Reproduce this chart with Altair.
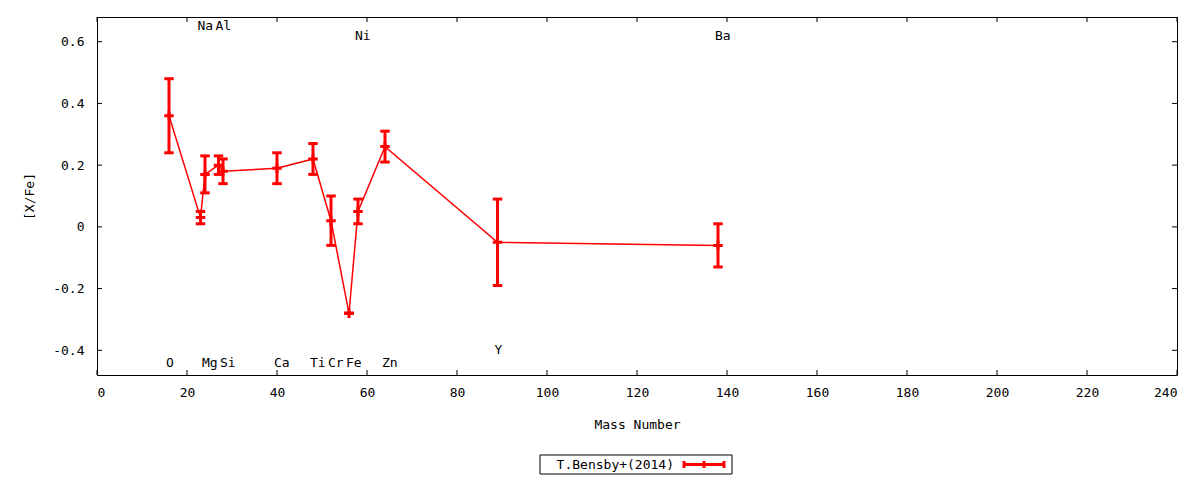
import altair as alt
import pandas as pd

# abundance pattern, T.Bensby+(2014)
elements = ["O", "Na", "Mg", "Al", "Si", "Ca", "Ti", "Cr", "Fe", "Ni", "Zn", "Y", "Ba"]
mass = [16, 23, 24, 27, 28, 40, 48, 52, 56, 58, 64, 89, 138]
xfe = [0.36, 0.03, 0.17, 0.20, 0.18, 0.19, 0.22, 0.02, -0.28, 0.05, 0.26, -0.05, -0.06]
err = [0.12, 0.02, 0.06, 0.03, 0.04, 0.05, 0.05, 0.08, 0.0, 0.04, 0.05, 0.14, 0.07]
label_y = [-0.44, 0.65, -0.44, 0.65, -0.44, -0.44, -0.44, -0.44, -0.44, 0.62, -0.44, -0.40, 0.62]

x_ticks = [0, 20, 40, 60, 80, 100, 120, 140, 160, 180, 200, 220, 240]
y_ticks = [-0.4, -0.2, 0, 0.2, 0.4, 0.6]

W, H = 1080, 358
FONT = "DejaVu Sans Mono"
RED = "#ff0000"

dat = pd.DataFrame({"el": elements, "mass": mass, "xfe": xfe, "err": err, "ly": label_y})
dat["lo"] = dat["xfe"] - dat["err"]
dat["hi"] = dat["xfe"] + dat["err"]

xs = alt.Scale(domain=[0, 240], nice=False, zero=False)
ys = alt.Scale(domain=[-0.48, 0.68], nice=False, zero=False)
xax = alt.Axis(values=x_ticks, ticks=False, domain=False, grid=False,
               labelPadding=11, titlePadding=19, title="Mass Number")
yax = alt.Axis(values=y_ticks, ticks=False, domain=False, grid=False,
               labelExpr="toString(datum.value)", labelPadding=13, titlePadding=16, title="[X/Fe]")


def X(f):
    return alt.X(f, scale=xs, axis=xax)


def Y(f):
    return alt.Y(f, scale=ys, axis=yax)


base = alt.Chart(dat)

line = base.mark_line(color=RED, strokeWidth=1.5).encode(X("mass:Q"), Y("xfe:Q"), order="mass:Q")

bars = base.mark_rule(color=RED, strokeWidth=3).encode(X("mass:Q"), Y("lo:Q"), alt.Y2("hi:Q"))

hbar = "M-1,0L1,0"
cross = "M-1,0L1,0M0,-1L0,1"

caps_lo = base.mark_point(shape=hbar, color=RED, strokeWidth=3, size=90, filled=False, opacity=1).encode(
    X("mass:Q"), Y("lo:Q"))
caps_hi = base.mark_point(shape=hbar, color=RED, strokeWidth=3, size=90, filled=False, opacity=1).encode(
    X("mass:Q"), Y("hi:Q"))
pts = base.mark_point(shape=cross, color=RED, strokeWidth=3, size=90, filled=False, opacity=1).encode(
    X("mass:Q"), Y("xfe:Q"))

labels = base.mark_text(font=FONT, fontSize=13, align="left", baseline="middle", dx=-3, color="black").encode(
    X("mass:Q"), Y("ly:Q"), text="el:N")

# inward ticks on all four sides
xt = alt.Chart(pd.DataFrame({"t": x_ticks}))
yt = alt.Chart(pd.DataFrame({"t": y_ticks}))
tick_b = xt.mark_rule(color="black").encode(X("t:Q"), y=alt.value(H), y2=alt.value(H - 5))
tick_t = xt.mark_rule(color="black").encode(X("t:Q"), y=alt.value(0), y2=alt.value(5))
tick_l = yt.mark_rule(color="black").encode(Y("t:Q"), x=alt.value(0), x2=alt.value(5))
tick_r = yt.mark_rule(color="black").encode(Y("t:Q"), x=alt.value(W), x2=alt.value(W - 5))

# key box below the plot
leg = alt.Chart(pd.DataFrame({"name": ["T.Bensby+(2014)"]}))
leg_box = leg.mark_rect(fill="white", stroke="black", strokeWidth=1).encode(
    x=alt.value(443), x2=alt.value(635), y=alt.value(438), y2=alt.value(457))
leg_txt = leg.mark_text(font=FONT, fontSize=13, align="right", baseline="middle", color="black").encode(
    x=alt.value(577), y=alt.value(447.5), text="name:N")
leg_line = leg.mark_rule(color=RED, strokeWidth=3).encode(
    x=alt.value(586), x2=alt.value(628), y=alt.value(447.5))
leg_caps = [
    leg.mark_rule(color=RED, strokeWidth=3).encode(
        x=alt.value(px), y=alt.value(444), y2=alt.value(451))
    for px in (587, 607, 627)
]

chart = alt.layer(
    tick_b, tick_t, tick_l, tick_r,
    line, bars, caps_lo, caps_hi, pts, labels,
    leg_box, leg_txt, leg_line, *leg_caps,
).properties(
    width=W, height=H,
    padding={"left": 89, "top": 9, "right": 15, "bottom": 100},
    autosize=alt.AutoSizeParams(type="none"),
).configure_view(
    stroke="black", strokeWidth=1
).configure_axis(
    labelFont=FONT, labelFontSize=13, labelColor="black",
    titleFont=FONT, titleFontSize=13, titleFontWeight="normal", titleColor="black",
)

chart.save("out.html", embed_options={"renderer": "svg", "actions": False})
